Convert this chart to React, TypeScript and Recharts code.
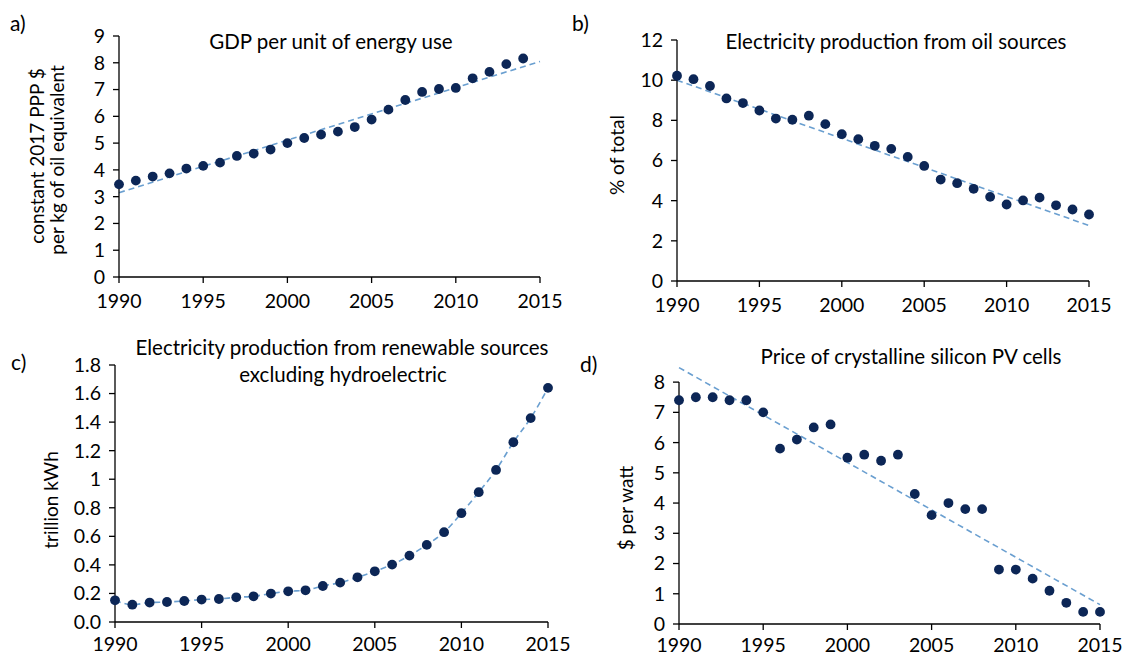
import {
  ComposedChart,
  Scatter,
  Line,
  XAxis,
  YAxis,
  ReferenceLine,
} from "recharts";

// years on the x axis
const years = [
  1990, 1991, 1992, 1993, 1994, 1995, 1996, 1997, 1998, 1999, 2000, 2001, 2002,
  2003, 2004, 2005, 2006, 2007, 2008, 2009, 2010, 2011, 2012, 2013, 2014, 2015,
];
const xTicks = [1990, 1995, 2000, 2005, 2010, 2015];

// a) GDP per unit of energy use (1990-2014)
const gdpPerEnergy = [
  3.46, 3.6, 3.75, 3.87, 4.05, 4.15, 4.27, 4.52, 4.61, 4.76, 5.0, 5.19, 5.32,
  5.43, 5.6, 5.88, 6.25, 6.61, 6.91, 7.02, 7.06, 7.42, 7.66, 7.95, 8.16,
];
// b) electricity from oil, % of total
const oilShare = [
  10.22, 10.05, 9.71, 9.09, 8.86, 8.49, 8.09, 8.03, 8.23, 7.81, 7.31, 7.06,
  6.73, 6.58, 6.18, 5.73, 5.05, 4.87, 4.59, 4.19, 3.81, 4.01, 4.15, 3.77, 3.56,
  3.31,
];
// c) renewables excl. hydro, trillion kWh
const renewables = [
  0.152, 0.121, 0.136, 0.14, 0.147, 0.157, 0.161, 0.173, 0.18, 0.199, 0.215,
  0.222, 0.252, 0.276, 0.313, 0.355, 0.402, 0.465, 0.54, 0.629, 0.762, 0.909,
  1.065, 1.259, 1.428, 1.64,
];
// d) PV cell price, $ per watt
const pvPrice = [
  7.4, 7.5, 7.5, 7.4, 7.4, 7.0, 5.8, 6.1, 6.5, 6.6, 5.5, 5.6, 5.4, 5.6, 4.3,
  3.6, 4.0, 3.8, 3.8, 1.8, 1.8, 1.5, 1.1, 0.7, 0.4, 0.4,
];

// linear trend line end points
const trendYears = [1990, 2015];
const gdpTrend = [3.15, 8.05];
const oilTrend = [10.0, 2.76];
const pvTrend = [8.48, 0.64];

const aTicks = [0, 1, 2, 3, 4, 5, 6, 7, 8, 9];
const bTicks = [0, 2, 4, 6, 8, 10, 12];
const cTicks = [0, 0.2, 0.4, 0.6, 0.8, 1, 1.2, 1.4, 1.6, 1.8];
const cTickLabels = ["0.0", "0.2", "0.4", "0.6", "0.8", "1", "1.2", "1.4", "1.6", "1.8"];
const dTicks = [0, 1, 2, 3, 4, 5, 6, 7, 8];

const toRows = (xs: number[], vs: number[]) =>
  vs.map((v, i) => ({ year: xs[i], v }));

const FONT = "Lato, 'Open Sans', sans-serif";
const DOT = "#0c2656";
const TREND = "#6a9fd0";
const TICK_FS = 19.5;

const Dot = (props: any) =>
  props.cx == null ? null : (
    <circle cx={props.cx} cy={props.cy} r={4.9} fill={DOT} />
  );

interface PanelProps {
  left: number;
  top: number;
  width: number;
  height: number;
  margin: { top: number; right: number; left: number; bottom: number };
  yWidth: number;
  xHeight: number;
  xTickMargin: number;
  domain: [number, number];
  ticks: number[];
  tickFormatter?: (v: number, i: number) => string;
  points: { year: number; v: number }[];
  trend: { year: number; v: number }[];
  curved?: boolean;
  axisTop?: number;
}

function Panel(p: PanelProps) {
  const axisStyle = { stroke: "#000", strokeWidth: 1.3 };
  const tick = { fill: "#000", fontSize: TICK_FS, fontFamily: FONT };
  return (
    <div style={{ position: "absolute", left: p.left, top: p.top }}>
      <ComposedChart width={p.width} height={p.height} margin={p.margin}>
        <XAxis
          type="number"
          dataKey="year"
          domain={[1990, 2015]}
          ticks={xTicks}
          interval={0}
          height={p.xHeight}
          tickSize={6}
          tickMargin={p.xTickMargin}
          axisLine={axisStyle}
          tickLine={axisStyle}
          tick={tick}
        />
        <YAxis
          type="number"
          dataKey="v"
          domain={p.domain}
          ticks={p.ticks}
          interval={0}
          width={p.yWidth}
          tickSize={6}
          tickMargin={8}
          axisLine={p.axisTop == null ? axisStyle : false}
          tickLine={axisStyle}
          tick={tick}
          tickFormatter={p.tickFormatter}
        />
        {p.axisTop != null && (
          <ReferenceLine
            segment={[
              { x: 1990, y: 0 },
              { x: 1990, y: p.axisTop },
            ]}
            stroke="#000"
            strokeWidth={1.3}
          />
        )}
        <Scatter data={p.points} dataKey="v" shape={Dot} isAnimationActive={false} />
        <Line
          data={p.trend}
          dataKey="v"
          type={p.curved ? "monotone" : "linear"}
          stroke={TREND}
          strokeWidth={1.6}
          strokeDasharray="6 4"
          dot={false}
          activeDot={false}
          isAnimationActive={false}
        />
      </ComposedChart>
    </div>
  );
}

export default function App() {
  const txt = { fontFamily: FONT, fill: "#000" };
  return (
    <div
      style={{
        position: "absolute",
        left: 0,
        top: 0,
        width: 1123,
        height: 655,
        background: "#fff",
        overflow: "hidden",
      }}
    >
      <Panel
        left={0}
        top={0}
        width={590}
        height={320}
        margin={{ top: 36, right: 50, left: 0, bottom: 0 }}
        yWidth={119}
        xHeight={43}
        xTickMargin={11}
        domain={[0, 9]}
        ticks={aTicks}
        points={toRows(years, gdpPerEnergy)}
        trend={toRows(trendYears, gdpTrend)}
      />
      <Panel
        left={560}
        top={0}
        width={563}
        height={320}
        margin={{ top: 40, right: 34, left: 0, bottom: 0 }}
        yWidth={117}
        xHeight={39}
        xTickMargin={11}
        domain={[0, 12]}
        ticks={bTicks}
        points={toRows(years, oilShare)}
        trend={toRows(trendYears, oilTrend)}
      />
      <Panel
        left={0}
        top={320}
        width={590}
        height={335}
        margin={{ top: 45, right: 42, left: 0, bottom: 0 }}
        yWidth={115}
        xHeight={33}
        xTickMargin={9}
        domain={[0, 1.8]}
        ticks={cTicks}
        tickFormatter={(_v, i) => cTickLabels[i]}
        points={toRows(years, renewables)}
        trend={toRows(years, renewables)}
        curved
      />
      <Panel
        left={560}
        top={320}
        width={563}
        height={335}
        margin={{ top: 47, right: 23, left: 0, bottom: 0 }}
        yWidth={119}
        xHeight={31}
        xTickMargin={8}
        domain={[0, 8.5]}
        ticks={dTicks}
        points={toRows(years, pvPrice)}
        trend={toRows(trendYears, pvTrend)}
        axisTop={8}
      />

      <svg
        width={1123}
        height={655}
        style={{ position: "absolute", left: 0, top: 0, pointerEvents: "none" }}
      >
        {/* panel letters */}
        <text x={10} y={31} fontSize={21} {...txt}>a)</text>
        <text x={572} y={31} fontSize={21} {...txt}>b)</text>
        <text x={11} y={370} fontSize={21} {...txt}>c)</text>
        <text x={580} y={372} fontSize={21} {...txt}>d)</text>

        {/* titles */}
        <text x={331} y={49} fontSize={20.5} textAnchor="middle" {...txt}>
          GDP per unit of energy use
        </text>
        <text x={896} y={49} fontSize={20.5} textAnchor="middle" {...txt}>
          Electricity production from oil sources
        </text>
        <text x={342} y={355} fontSize={20.5} textAnchor="middle" {...txt}>
          Electricity production from renewable sources
        </text>
        <text x={343} y={382} fontSize={20.5} textAnchor="middle" {...txt}>
          excluding hydroelectric
        </text>
        <text x={911} y={364} fontSize={20.5} textAnchor="middle" {...txt}>
          Price of crystalline silicon PV cells
        </text>

        {/* y axis titles */}
        <text x={44} y={156} fontSize={19} textAnchor="middle" transform="rotate(-90 44 156)" {...txt}>
          constant 2017 PPP $
        </text>
        <text x={64} y={160} fontSize={19} textAnchor="middle" transform="rotate(-90 64 160)" {...txt}>
          per kg of oil equivalent
        </text>
        <text x={624} y={155} fontSize={19} textAnchor="middle" transform="rotate(-90 624 155)" {...txt}>
          % of total
        </text>
        <text x={58} y={500} fontSize={19} textAnchor="middle" transform="rotate(-90 58 500)" {...txt}>
          trillion kWh
        </text>
        <text x={633} y={508} fontSize={19} textAnchor="middle" transform="rotate(-90 633 508)" {...txt}>
          $ per watt
        </text>
      </svg>
    </div>
  );
}
